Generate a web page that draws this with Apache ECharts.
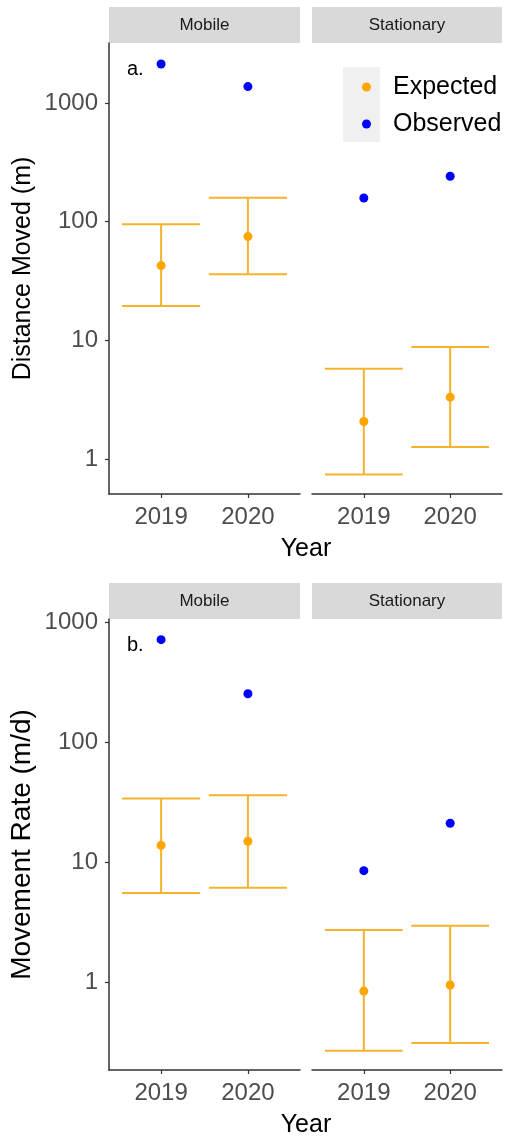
<!DOCTYPE html>
<html>
<head>
<meta charset="utf-8">
<script src="https://cdn.jsdelivr.net/npm/echarts@6.0.0/dist/echarts.min.js"></script>
<style>
  html, body { margin: 0; padding: 0; background: #fff; }
  #chart { width: 508px; height: 1137px; }
</style>
</head>
<body>
<div id="chart"></div>
<script>
var years = ["2019", "2020"];
var facets = ["Mobile", "Stationary"];
var yTicks = [1, 10, 100, 1000];

// a. distance moved (m)
var distMobileExp = [42.6, 74.8];
var distMobileLo = [19.5, 36];
var distMobileHi = [95, 159];
var distMobileObs = [2130, 1373];
var distStatExp = [2.07, 3.32];
var distStatLo = [0.74, 1.26];
var distStatHi = [5.75, 8.77];
var distStatObs = [158, 241];

// b. movement rate (m/d)
var rateMobileExp = [13.9, 15.0];
var rateMobileLo = [5.56, 6.15];
var rateMobileHi = [34.1, 36.3];
var rateMobileObs = [718, 254];
var rateStatExp = [0.846, 0.95];
var rateStatLo = [0.269, 0.313];
var rateStatHi = [2.73, 2.96];
var rateStatObs = [8.53, 21.2];

var FONT = "'Liberation Sans', Arial, sans-serif";
var expColor = "#FFA500";
var obsColor = "#0000FF";
var barColor = "#F5B22C";
var axisColor = "#333333";

function pts(vals) {
  return vals.map(function (v, i) { return [i + 1, v]; });
}
function bars(lo, hi) {
  return lo.map(function (v, i) { return [i + 1, v, hi[i]]; });
}

function renderBar(params, api) {
  var x = api.value(0);
  var top = api.coord([x, api.value(2)]);
  var bot = api.coord([x, api.value(1)]);
  var l = api.coord([x - 0.45, api.value(2)])[0];
  var r = api.coord([x + 0.45, api.value(2)])[0];
  var style = { stroke: barColor, lineWidth: 2 };
  return {
    type: "group",
    children: [
      { type: "line", shape: { x1: top[0], y1: top[1], x2: bot[0], y2: bot[1] }, style: style },
      { type: "line", shape: { x1: l, y1: top[1], x2: r, y2: top[1] }, style: style },
      { type: "line", shape: { x1: l, y1: bot[1], x2: r, y2: bot[1] }, style: style }
    ]
  };
}

var panels = [
  { top: 43, min: 0.507, max: 3200, title: "Distance Moved (m)", titleSize: 25,
    sets: [[distMobileExp, distMobileLo, distMobileHi, distMobileObs],
           [distStatExp, distStatLo, distStatHi, distStatObs]] },
  { top: 619, min: 0.186, max: 1067, title: "Movement Rate (m/d)", titleSize: 28,
    sets: [[rateMobileExp, rateMobileLo, rateMobileHi, rateMobileObs],
           [rateStatExp, rateStatLo, rateStatHi, rateStatObs]] }
];
var cols = [{ left: 109, width: 191 }, { left: 312, width: 190 }];
var panelH = 451;

var grid = [], xAxis = [], yAxis = [], series = [], graphic = [];

panels.forEach(function (p, pi) {
  cols.forEach(function (c, ci) {
    var gi = grid.length;
    var first = ci === 0;
    grid.push({ left: c.left, top: p.top, width: c.width, height: panelH });
    xAxis.push({
      type: "value", gridIndex: gi, min: 0.4, max: 2.6,
      axisLine: { show: true, onZero: false, lineStyle: { color: axisColor, width: 1.5 } },
      axisTick: { show: true, length: 4, customValues: [1, 2], lineStyle: { color: axisColor, width: 1.2 } },
      axisLabel: {
        customValues: [1, 2], margin: 11, fontSize: 24, color: "#4D4D4D", fontFamily: FONT,
        formatter: function (v) { return years[Math.round(v) - 1]; }
      },
      splitLine: { show: false }
    });
    yAxis.push({
      type: "log", logBase: 10, gridIndex: gi, min: p.min, max: p.max,
      name: first ? p.title : "", nameLocation: "middle", nameGap: 73,
      nameTextStyle: { fontSize: p.titleSize, color: "#000", fontFamily: FONT },
      axisLine: { show: first, onZero: false, lineStyle: { color: axisColor, width: 1.5 } },
      axisTick: { show: first, length: 4, customValues: yTicks, lineStyle: { color: axisColor, width: 1.2 } },
      axisLabel: {
        show: first, customValues: yTicks, margin: 11, fontSize: 24, color: "#4D4D4D", fontFamily: FONT,
        formatter: function (v) { return String(Math.round(v)); }
      },
      splitLine: { show: false }
    });
    var s = p.sets[ci];
    series.push({
      type: "custom", name: "ci", xAxisIndex: gi, yAxisIndex: gi,
      data: bars(s[1], s[2]), encode: { x: 0, y: [1, 2] }, renderItem: renderBar, silent: true
    });
    series.push({
      type: "scatter", name: "Expected", xAxisIndex: gi, yAxisIndex: gi,
      data: pts(s[0]), symbolSize: 9, itemStyle: { color: expColor, opacity: 1 }
    });
    series.push({
      type: "scatter", name: "Observed", xAxisIndex: gi, yAxisIndex: gi,
      data: pts(s[3]), symbolSize: 9, itemStyle: { color: obsColor, opacity: 1 }
    });

    // facet strip
    graphic.push({
      type: "rect", left: c.left, top: p.top - 36,
      shape: { width: c.width, height: 36 }, style: { fill: "#D9D9D9" }
    });
    graphic.push({
      type: "text", x: c.left + c.width / 2, y: p.top - 18,
      style: { text: facets[ci], fontSize: 17, fill: "#1A1A1A", fontFamily: FONT,
               textAlign: "center", textVerticalAlign: "middle" }
    });
  });
  graphic.push({
    type: "text", x: 127, y: p.top + 26,
    style: { text: pi === 0 ? "a." : "b.", fontSize: 20, fill: "#000", fontFamily: FONT,
             textAlign: "left", textVerticalAlign: "middle" }
  });
  graphic.push({
    type: "text", x: 306, y: p.top + panelH + 55,
    style: { text: "Year", fontSize: 25, fill: "#000", fontFamily: FONT,
             textAlign: "center", textVerticalAlign: "middle" }
  });
});

// legend key background
graphic.push({
  type: "rect", left: 343, top: 67, z: -1,
  shape: { width: 37, height: 75 }, style: { fill: "#F0F0F0" }
});

var option = {
  animation: false,
  backgroundColor: "#fff",
  grid: grid,
  xAxis: xAxis,
  yAxis: yAxis,
  series: series,
  graphic: graphic,
  legend: {
    data: ["Expected", "Observed"],
    orient: "vertical",
    left: 357, top: 68,
    itemWidth: 9, itemHeight: 9, itemGap: 9,
    icon: "circle",
    textStyle: { fontSize: 25, color: "#000", fontFamily: FONT, lineHeight: 28, padding: [0, 0, 0, 17] }
  }
};

var chart = echarts.init(document.getElementById("chart"), null, { renderer: "canvas" });
chart.setOption(option);
</script>
</body>
</html>
